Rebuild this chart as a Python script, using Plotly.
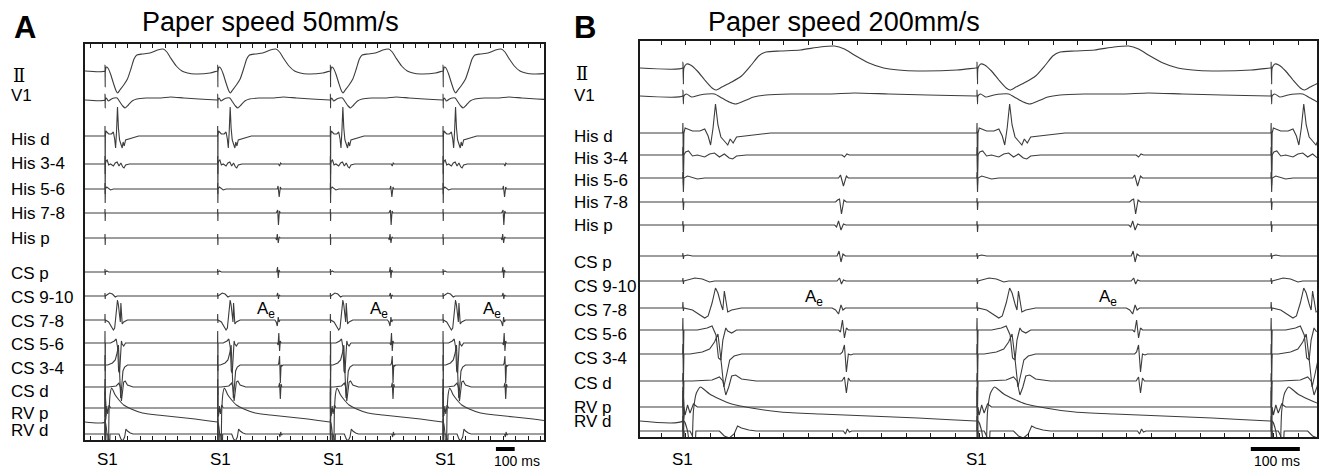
import plotly.graph_objects as go

W, H = 1324, 469

# ---------------- data ----------------
CHANNEL_LABELS = ["Ⅱ", "V1", "His d", "His 3-4", "His 5-6", "His 7-8", "His p",
                  "CS p", "CS 9-10", "CS 7-8", "CS 5-6", "CS 3-4", "CS d", "RV p", "RV d"]
TRACE_KEYS = ["II", "V1", "Hisd", "His34", "His56", "His78", "Hisp",
              "CSp", "CS910", "CS78", "CS56", "CS34", "CSd", "RVp", "RVpace", "RVd"]

# stimulus (S1) times in ms within each window, and whether an echo (Ae) follows
A_S1 = [106, 706, 1306, 1906]
A_ECHO = [0, 1, 1, 1]
A_S1_LABELS = ["S1", "S1", "S1", "S1"]
B_S1 = [87, 687, 1287]
B_ECHO = [1, 1, 1]
B_S1_LABELS = ["S1", "S1", ""]
A_WINDOW_MS = 2444
B_WINDOW_MS = 1381
SCALE_MS = 100

# electrogram templates: (ms after S1, deflection; positive = downward)
II = [(0, 0), (0.5, -6), (1.5, 16), (2.5, 0), (8, -4), (16, -3), (30, 3), (45, 12), (60, 20), (68, 22),
      (80, 19), (100, 14), (120, 8), (140, -3), (155, -12), (170, -16), (200, -17), (240, -18),
      (280, -21), (310, -22), (330, -19), (350, -13), (380, -5), (410, 0), (440, 2), (480, 3),
      (560, 2), (598, 0)]
V1 = [(0, 0), (0.5, -6), (1.5, 8), (2.5, 0), (8, -2), (18, 1), (35, -1), (50, -2), (65, -2), (80, 2),
      (95, 6), (108, 8), (125, 5), (145, 1), (170, -1), (220, -2), (300, -2), (350, -3), (420, -2),
      (500, -1), (598, 0)]
HISD = [(0, 0), (0.5, -10), (1.5, 38), (2.5, 0), (5, -5), (10, -4), (20, -2), (35, -2), (45, -4),
        (52, 3), (57, 12), (62, -5), (67, -29), (72, -8), (78, 4), (85, 8), (92, 12), (97, 6),
        (103, 10), (110, 4), (125, 3), (150, 2), (180, 0)]
HIS34 = [(0, 0), (0.5, -8), (1.5, 30), (2.5, 0), (6, -3), (12, -4), (20, 1), (30, 0), (45, 2),
         (55, -1), (65, -2), (75, 2), (85, -1), (95, 3), (102, 4), (110, 1), (130, 0)]
HIS34_ECHO = [(325, 0), (330, 2), (335, -1), (340, 0)]
HIS56 = [(0, 0), (0.5, -6), (1.5, 14), (2.5, 0), (10, -2), (30, 1), (45, 0)]
HIS56_ECHO = [(318, 0), (322, -3), (328, 8), (334, -2), (338, 0)]
HIS78 = [(0, 0), (0.5, -4), (1.5, 8), (2.5, 0)]
HIS78_ECHO = [(312, 0), (316, -2), (320, -3), (324, 12), (329, -2), (334, 0)]
HISP = [(0, 0), (0.5, -4), (1.5, 7), (2.5, 0)]
HISP_ECHO = [(310, 0), (314, 2), (318, -4), (323, 5), (328, -1), (333, 0)]
CSP = [(0, 0), (0.5, -3), (1.5, 3), (2.5, 0), (10, -1), (20, 0)]
CSP_ECHO = [(315, 0), (319, -5), (323, 6), (327, -2), (332, 0)]
CS910 = [(0, 0), (0.5, -3), (1.5, 3), (2.5, 0), (10, -1), (25, -3), (40, -2), (55, 1), (65, 0)]
CS910_ECHO = [(315, 0), (320, -3), (324, 3), (328, -1), (333, 0)]
CS78 = [(0, 0), (0.5, -6), (1.5, 3), (2.5, 0), (20, 2), (32, 6), (45, 10), (52, 8), (60, -5),
        (67, -20), (72, -15), (78, -4), (82, 2), (85, -17), (88, -8), (92, 4), (100, 2), (120, 0)]
CS78_ECHO = [(305, 0), (312, 2), (318, 6), (323, -3), (327, 2), (332, 0)]
CS56 = [(0, 0), (0.5, -12), (1.5, 28), (2.5, 0), (10, 0), (30, 0), (50, -2), (60, -4), (68, 5),
        (73, 28), (78, 30), (82, 10), (88, -2), (92, 1), (100, 3), (110, 0)]
CS56_ECHO = [(318, 0), (322, 2), (326, -10), (330, 8), (334, -2), (338, 0)]
CS34 = [(0, 0), (0.5, -10), (1.5, 30), (2.5, 0), (15, 0), (40, -2), (55, -5), (65, -12), (72, -20),
        (78, 5), (84, 33), (90, 20), (96, 6), (105, 2), (120, 0)]
CS34_ECHO = [(322, 0), (326, -2), (330, -9), (334, 18), (338, 0), (343, 1), (348, 0)]
CSD = [(0, 0), (0.5, -8), (1.5, 30), (2.5, 0), (20, 0), (60, -1), (75, -4), (82, 0), (88, 14),
       (94, 6), (100, -5), (108, -6), (120, -2), (150, 0)]
CSD_ECHO = [(325, 0), (330, -4), (334, 12), (338, -3), (342, 0)]
RVP = [(0, 0), (0.5, -20), (1.5, 60), (2.5, 0), (5, 8), (10, -2), (15, 6), (22, -3), (30, 0)]
RVPACE = [(0, 0), (0.5, -30), (1.5, 40), (3, 0), (10, 10), (18, 40), (22, -10), (28, -28), (36, -34),
          (45, -31), (55, -27), (75, -22), (100, -17), (140, -13), (200, -9), (280, -7), (380, -5),
          (480, -3), (598, 0)]
RVD = [(0, 0), (0.5, -15), (1.5, 30), (3, 0), (15, 0), (20, 5), (24, 30), (27, 0), (40, 0), (75, 0),
       (85, 5), (95, 7), (105, 3), (112, -5), (120, -3), (135, -1), (150, 0)]
RVD_ECHO = [(328, 0), (332, 3), (336, -2), (340, 1), (345, 0)]

TEMPLATES = {"II": II, "V1": V1, "Hisd": HISD, "His34": HIS34, "His56": HIS56, "His78": HIS78,
             "Hisp": HISP, "CSp": CSP, "CS910": CS910, "CS78": CS78, "CS56": CS56, "CS34": CS34,
             "CSd": CSD, "RVp": RVP, "RVpace": RVPACE, "RVd": RVD}
ECHOES = {"His34": HIS34_ECHO, "His56": HIS56_ECHO, "His78": HIS78_ECHO, "Hisp": HISP_ECHO,
          "CSp": CSP_ECHO, "CS910": CS910_ECHO, "CS78": CS78_ECHO, "CS56": CS56_ECHO,
          "CS34": CS34_ECHO, "CSd": CSD_ECHO, "RVd": RVD_ECHO}

# ---------------- layout (pixel positions) ----------------
A_FRAME = (85, 544, 44, 440)    # left, right, top, bottom
B_FRAME = (640, 1317, 41, 437)
A_BASE = [71, 100, 136, 164, 189, 213, 238, 272, 296, 320, 343, 365, 387, 408, 422, 434]
B_BASE = [68, 96, 133, 155, 178, 202, 225, 256, 281, 308, 330, 354, 381, 407, 421, 431]
A_LABEL_Y = [76, 95, 139, 164, 189, 213, 239, 273, 297, 321, 344, 368, 391, 413, 430]
B_LABEL_Y = [74, 95, 136, 158, 180, 203, 226, 262, 286, 310, 334, 358, 383, 407, 421]
A_LABEL_X, B_LABEL_X = 9, 572
SMOOTH = {"II", "V1", "RVpace"}
LINE_COLOR = "#3c3c3c"
FONT = "Liberation Sans, Arial, Helvetica, sans-serif"
ROMAN_FONT = "DejaVu Serif, Noto Sans CJK JP, serif"


def build(key, s1_list, echo_flags, base, xmax):
    xs, ys = [0], [base]
    for s, f in zip(s1_list, echo_flags):
        pts = list(TEMPLATES[key]) + (list(ECHOES.get(key, [])) if f else [])
        pts.sort()
        for tau, dy in pts:
            xs.append(s + tau)
            ys.append(base + dy)
    if xs[-1] < xmax:
        xs.append(xmax)
        ys.append(base)
    return xs, ys


fig = go.Figure()
panels = [("x", "y", A_S1, A_ECHO, A_BASE, A_WINDOW_MS),
          ("x2", "y2", B_S1, B_ECHO, B_BASE, B_WINDOW_MS)]
for xa, ya, s1, echo, bases, win in panels:
    for i, key in enumerate(TRACE_KEYS):
        xs, ys = build(key, s1, echo, bases[i], win)
        fig.add_trace(go.Scatter(
            x=xs, y=ys, mode="lines", xaxis=xa, yaxis=ya, hoverinfo="skip", showlegend=False,
            line=dict(color=LINE_COLOR, width=1.1,
                      shape="spline" if key in SMOOTH else "linear", smoothing=0.6)))


def px_dom(frame):
    l, r, t, b = frame
    return [l / W, r / W], [1 - b / H, 1 - t / H]


axcommon = dict(showgrid=False, zeroline=False, showticklabels=False,
                showline=True, linecolor="#1a1a1a", linewidth=1.6)
adx, ady = px_dom(A_FRAME)
bdx, bdy = px_dom(B_FRAME)
fig.update_layout(
    width=W, height=H, margin=dict(l=0, r=0, t=0, b=0),
    paper_bgcolor="white", plot_bgcolor="white", hovermode=False,
    xaxis=dict(domain=adx, range=[0, A_WINDOW_MS], ticks="inside", ticklen=4, tickwidth=1,
               tickcolor="#1a1a1a", tick0=26.6, dtick=66.67, mirror="ticks", **axcommon),
    yaxis=dict(domain=ady, range=[A_FRAME[3], A_FRAME[2]], mirror=True, ticks="", **axcommon),
    xaxis2=dict(domain=bdx, range=[0, B_WINDOW_MS], ticks="inside", ticklen=4, tickwidth=1,
                tickcolor="#1a1a1a", tick0=43, dtick=50, mirror="ticks", anchor="y2", **axcommon),
    yaxis2=dict(domain=bdy, range=[B_FRAME[3], B_FRAME[2]], mirror=True, ticks="", anchor="x2",
                **axcommon),
)

ann = []


def txt(x, y, s, size, xanchor="left", bold=False, xref="paper", xshift=0, family=FONT):
    ann.append(dict(x=x if xref != "paper" else x / W, y=1 - y / H, xref=xref, yref="paper",
                    text=f"<b>{s}</b>" if bold else s, showarrow=False, xanchor=xanchor,
                    yanchor="middle", xshift=xshift,
                    font=dict(family=family, size=size, color="black")))


for lab_x, lab_ys in ((A_LABEL_X, A_LABEL_Y), (B_LABEL_X, B_LABEL_Y)):
    for lab, y in zip(CHANNEL_LABELS, lab_ys):
        if lab == "Ⅱ":
            txt(lab_x + 2, y, lab, 18, family=ROMAN_FONT)
        else:
            txt(lab_x, y, lab, 17)

txt(12, 27, "A", 31, bold=True)
txt(572, 27, "B", 31, bold=True)
txt(140, 22, "Paper speed 50mm/s", 27)
txt(706, 22, "Paper speed 200mm/s", 27)

for s, lab in zip(A_S1, A_S1_LABELS):
    if lab:
        txt(s, 459, lab, 17, xanchor="center", xref="x", xshift=3)
for s, lab in zip(B_S1, B_S1_LABELS):
    if lab:
        txt(s, 459, lab, 17, xanchor="center", xref="x2")

# echo labels
for s, f in zip(A_S1, A_ECHO):
    if f:
        txt(s + 200, 310, "A<sub>e</sub>", 17, xref="x")
for s, f in zip(B_S1, B_ECHO):
    if f and s + 245 < B_WINDOW_MS:
        txt(s + 245, 298, "A<sub>e</sub>", 17, xref="x2")

# 100 ms scale bars
A_BAR_START, B_BAR_START = 2188, 1246
shapes = [
    dict(type="rect", xref="x", yref="paper", x0=A_BAR_START, x1=A_BAR_START + SCALE_MS,
         y0=1 - 451 / H, y1=1 - 447 / H, fillcolor="black", line=dict(width=0)),
    dict(type="rect", xref="x2", yref="paper", x0=B_BAR_START, x1=B_BAR_START + SCALE_MS,
         y0=1 - 451 / H, y1=1 - 447 / H, fillcolor="black", line=dict(width=0)),
]
txt(517, 461, "100 ms", 14, xanchor="center")
txt(1277, 461, "100 ms", 14, xanchor="center")

fig.update_layout(annotations=ann, shapes=shapes)
fig.write_html("out.html", config={"displayModeBar": False},
               post_script="document.body.style.margin='0';document.body.style.overflow='hidden';")
